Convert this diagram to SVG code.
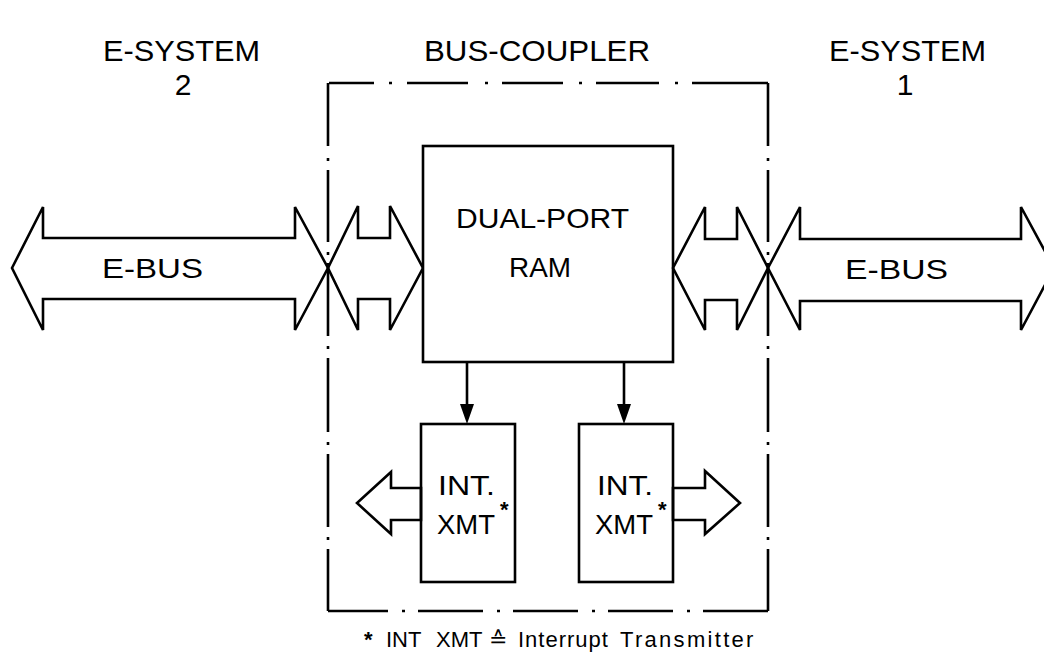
<svg xmlns="http://www.w3.org/2000/svg" width="1044" height="657" viewBox="0 0 1044 657">
<style>
.ln{fill:none;stroke:#000;stroke-width:2.6;stroke-linejoin:miter}
.box{fill:#fff;stroke:#000;stroke-width:2.6}
.frame{fill:none;stroke:#000;stroke-width:2.6}
.head{fill:#000;stroke:none}
.t{font-family:"Liberation Sans",Arial,sans-serif;fill:#000}
.h{font-size:30px}
.m{font-size:28px}
.s{font-size:27px}
.f{font-size:22px}
</style>
<rect width="1044" height="657" fill="#fff"/>

<g id="titles">
<text class="t h" x="103" y="61" textLength="157" lengthAdjust="spacingAndGlyphs">E-SYSTEM</text>
<text class="t h" x="183" y="95" text-anchor="middle">2</text>
<text class="t h" x="424" y="61" textLength="226" lengthAdjust="spacingAndGlyphs">BUS-COUPLER</text>
<text class="t h" x="829" y="61" textLength="157" lengthAdjust="spacingAndGlyphs">E-SYSTEM</text>
<text class="t h" x="905" y="95" text-anchor="middle">1</text>
</g>

<g id="bus-coupler-frame">
<path class="frame" d="M329,83 H374 M389,83 H392 M407,83 H468 M485,83 H488 M502,83 H563 M579,83 H582 M596,83 H659 M675,83 H678 M692,83 H768
M328,83 V146 M328,158 V161 M328,170 V242 M328,252 V255 M328,263 V336 M328,346 V349 M328,358 V432 M328,442 V445 M328,454 V527 M328,537 V540 M328,549 V611
M768,83 V146 M768,158 V161 M768,170 V242 M768,252 V255 M768,263 V336 M768,346 V349 M768,358 V432 M768,442 V445 M768,454 V527 M768,537 V540 M768,549 V611
M328,611 H388 M402,611 H405 M418,611 H483 M497,611 H500 M513,611 H578 M592,611 H595 M608,611 H673 M687,611 H690 M703,611 H768"/>
</g>

<g id="ebus-2">
<polygon class="ln" points="12,268 43,207 43,238 295,238 295,207 328,268 295,330 295,299 43,299 43,330"/>
<text class="t s" x="102" y="278" textLength="101" lengthAdjust="spacingAndGlyphs">E-BUS</text>
</g>
<g id="port-2">
<polygon class="ln" points="328,268 358,206 358,238 390,238 390,206 423,268 390,330 390,299 358,299 358,330"/>
</g>

<g id="dual-port-ram">
<rect class="box" x="423" y="146" width="250" height="216"/>
<text class="t m" x="456" y="228" textLength="173" lengthAdjust="spacingAndGlyphs">DUAL-PORT</text>
<text class="t m" x="509" y="277" textLength="62" lengthAdjust="spacingAndGlyphs">RAM</text>
</g>

<g id="port-1">
<polygon class="ln" points="673,268 705,207 705,239 737,239 737,207 768,268 737,330 737,300 705,300 705,330"/>
</g>
<g id="ebus-1">
<polygon class="ln" points="768,268 800,207 800,239 1021,239 1021,207 1054,268 1021,330 1021,301 800,301 800,330"/>
<text class="t s" x="845" y="279" textLength="103" lengthAdjust="spacingAndGlyphs">E-BUS</text>
</g>

<g id="int-xmt-2">
<rect class="box" x="421" y="424" width="94" height="158"/>
<text class="t m" x="438" y="495" textLength="57" lengthAdjust="spacingAndGlyphs">INT.</text>
<text class="t m" x="437" y="534" textLength="58" lengthAdjust="spacingAndGlyphs">XMT</text>
<text class="t" x="500" y="517" font-size="22" font-weight="bold">*</text>
<polygon class="ln" points="421,488 391,488 391,472 357,503 391,534 391,520 421,520"/>
</g>

<g id="int-xmt-1">
<rect class="box" x="579" y="424" width="94" height="158"/>
<text class="t m" x="597" y="495" textLength="56" lengthAdjust="spacingAndGlyphs">INT.</text>
<text class="t m" x="595" y="534" textLength="58" lengthAdjust="spacingAndGlyphs">XMT</text>
<text class="t" x="658" y="517" font-size="22" font-weight="bold">*</text>
<polygon class="ln" points="673,488 705,488 705,471 740,503 705,534 705,520 673,520"/>
</g>

<g id="connectors">
<line class="ln" x1="467" y1="362" x2="467" y2="406"/>
<polygon class="head" points="460,404 474,404 467,424"/>
<line class="ln" x1="624" y1="362" x2="624" y2="406"/>
<polygon class="head" points="617,404 631,404 624,424"/>
</g>

<g id="footnote">
<text class="t f" y="647"><tspan x="364" font-weight="bold">*</tspan><tspan x="386">INT</tspan><tspan x="436">XMT</tspan><tspan x="489">≙</tspan><tspan x="518" letter-spacing="1">Interrupt</tspan><tspan x="620" letter-spacing="2.3">Transmitter</tspan></text>
</g>
</svg>
